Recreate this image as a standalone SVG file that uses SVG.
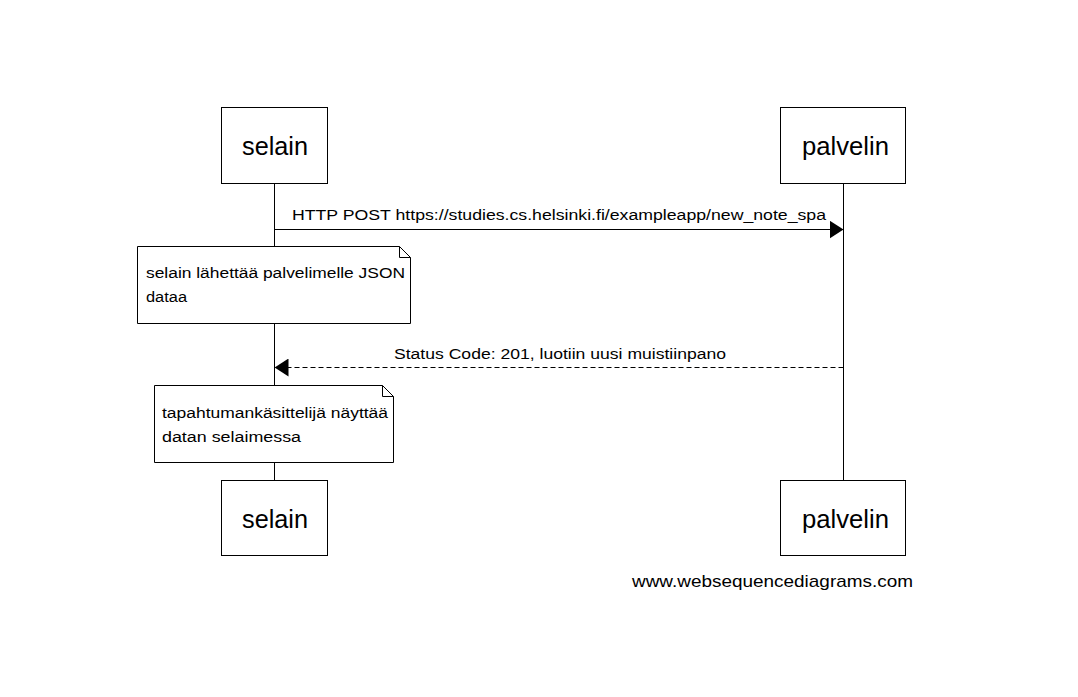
<svg xmlns="http://www.w3.org/2000/svg" width="1078" height="697" viewBox="0 0 1078 697">
<style>
.box{fill:#fff;stroke:#000;stroke-width:1}
.lbl{font-family:"Liberation Sans",Arial,sans-serif;font-size:25px;fill:#000}
.msg{font-family:"Liberation Sans",Arial,sans-serif;font-size:14px;fill:#000}
.life{stroke:#000;stroke-width:1}
</style>
<defs>
<marker id="ah" markerWidth="14" markerHeight="18" refX="14" refY="9" orient="auto" markerUnits="userSpaceOnUse">
<path d="M0,0 L14,9 L0,18 Z" fill="#000"/>
</marker>
</defs>
<rect width="1078" height="697" fill="#fff"/>
<g id="lifelines">
<line class="life" x1="274.5" y1="183" x2="274.5" y2="480"/>
<line class="life" x1="843.5" y1="183" x2="843.5" y2="480"/>
</g>
<g id="selain-top"><rect class="box" x="221.5" y="107.5" width="106" height="76"/><text class="lbl" x="242" y="155" textLength="66" lengthAdjust="spacingAndGlyphs">selain</text></g>
<g id="palvelin-top"><rect class="box" x="780.5" y="107.5" width="125" height="76"/><text class="lbl" x="802" y="155" textLength="87" lengthAdjust="spacingAndGlyphs">palvelin</text></g>
<g id="selain-bottom"><rect class="box" x="221.5" y="480.5" width="106" height="75"/><text class="lbl" x="242" y="528" textLength="66" lengthAdjust="spacingAndGlyphs">selain</text></g>
<g id="palvelin-bottom"><rect class="box" x="780.5" y="480.5" width="125" height="75"/><text class="lbl" x="802" y="528" textLength="87" lengthAdjust="spacingAndGlyphs">palvelin</text></g>
<g id="connectors">
<line x1="274.5" y1="229.5" x2="843.5" y2="229.5" stroke="#000" marker-end="url(#ah)"/>
<text class="msg" x="292" y="220" textLength="534" lengthAdjust="spacingAndGlyphs">HTTP POST https://studies.cs.helsinki.fi/exampleapp/new_note_spa</text>
<line x1="843.5" y1="367.5" x2="274.5" y2="367.5" stroke="#000" stroke-dasharray="5,3" marker-end="url(#ah)"/>
<text class="msg" x="394" y="359" textLength="332" lengthAdjust="spacingAndGlyphs">Status Code: 201, luotiin uusi muistiinpano</text>
</g>
<g id="note1">
<path class="box" d="M137.5,246.5 H399.5 L410.5,257.5 V323.5 H137.5 Z"/>
<path d="M399.5,246.5 V257.5 H410.5" fill="none" stroke="#000"/>
<text class="msg" x="146" y="278" textLength="259" lengthAdjust="spacingAndGlyphs">selain lähettää palvelimelle JSON</text>
<text class="msg" x="146" y="302" textLength="41" lengthAdjust="spacingAndGlyphs">dataa</text>
</g>
<g id="note2">
<path class="box" d="M154.5,385.5 H382.5 L393.5,396.5 V462.5 H154.5 Z"/>
<path d="M382.5,385.5 V396.5 H393.5" fill="none" stroke="#000"/>
<text class="msg" x="162" y="418" textLength="226" lengthAdjust="spacingAndGlyphs">tapahtumankäsittelijä näyttää</text>
<text class="msg" x="162" y="442" textLength="139" lengthAdjust="spacingAndGlyphs">datan selaimessa</text>
</g>
<text x="632" y="587" font-family="Liberation Sans,Arial,sans-serif" font-size="17" fill="#000" textLength="281" lengthAdjust="spacingAndGlyphs">www.websequencediagrams.com</text>
</svg>
